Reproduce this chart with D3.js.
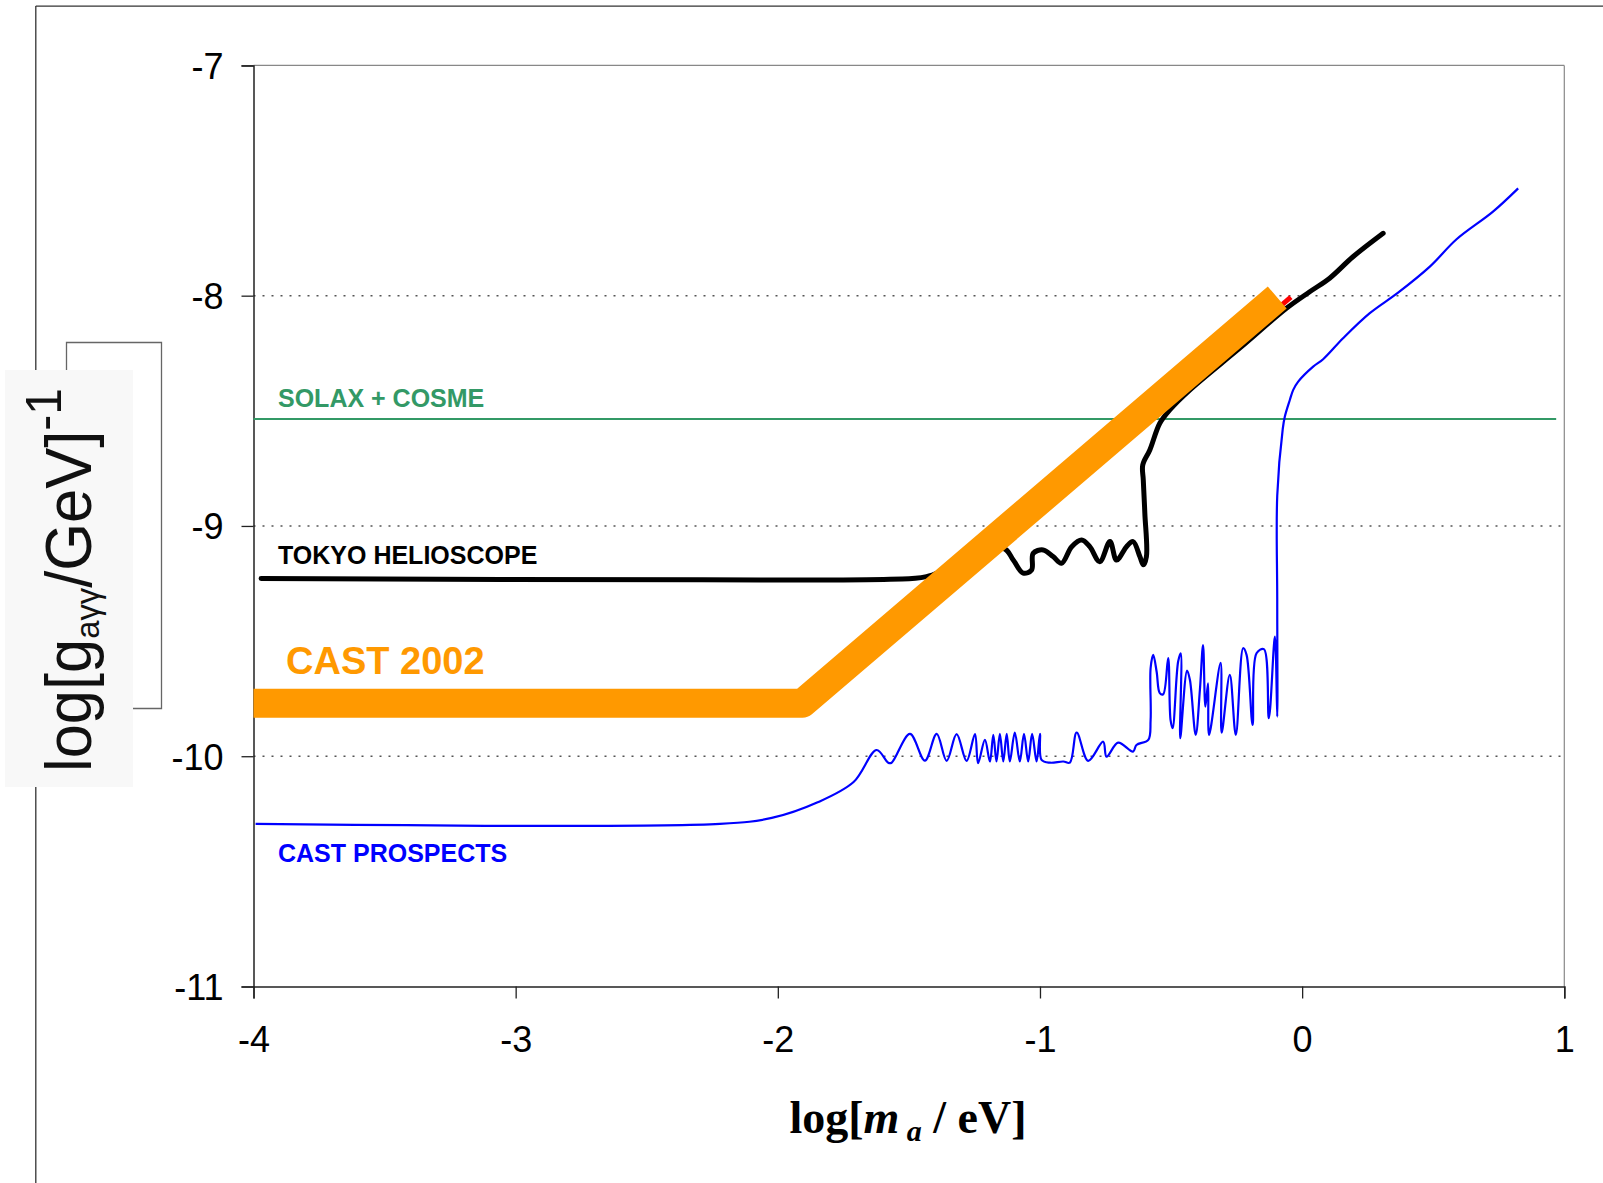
<!DOCTYPE html>
<html>
<head>
<meta charset="utf-8">
<script src="https://cdn.jsdelivr.net/npm/d3@7"></script>
<style>
  body { margin: 0; background: #fff; }
  svg { display: block; }
</style>
</head>
<body>
<div id="chart"></div>
<script>
// axis ticks
var xTicks = [-4, -3, -2, -1, 0, 1];
var yTicks = [-7, -8, -9, -10, -11];
var gridLevels = [-8, -9, -10];

// SOLAX + COSME limit (flat)
var solaxLevel = -8.536;
var solaxRange = [-4, 0.969];

// CAST 2002 exclusion (thick band) and the red line under it
var cast2002 = [[-4, -9.77], [-1.906, -9.77], [-0.095, -8.008]];
var castRed = [[-1.86, -9.79], [-0.043, -8.006]];

// Tokyo helioscope limit
var tokyo = [
  [-3.971, -9.228], [-2.297, -9.234], [-1.572, -9.231], [-1.433, -9.220],
  [-1.140, -9.097], [-1.102, -9.148], [-1.064, -9.205], [-1.032, -9.191],
  [-1.026, -9.119], [-0.988, -9.104], [-0.950, -9.133], [-0.918, -9.162],
  [-0.879, -9.090], [-0.841, -9.061], [-0.810, -9.090], [-0.772, -9.155],
  [-0.733, -9.068], [-0.708, -9.148], [-0.670, -9.090], [-0.645, -9.068],
  [-0.619, -9.133], [-0.606, -9.169], [-0.594, -9.133], [-0.600, -8.945],
  [-0.606, -8.800], [-0.608, -8.735], [-0.581, -8.670], [-0.543, -8.554],
  [-0.505, -8.496], [-0.428, -8.409], [-0.237, -8.227], [-0.060, -8.055],
  [0.029, -7.983], [0.105, -7.924], [0.194, -7.831], [0.309, -7.729]
];

// CAST prospects
var prospects = [
  [-3.992, -10.294], [-2.221, -10.294], [-2.023, -10.268], [-1.848, -10.200],
  [-1.711, -10.112], [-1.623, -9.973], [-1.579, -10.028], [-1.566, -10.028],
  [-1.496, -9.903], [-1.439, -10.019], [-1.394, -9.903], [-1.356, -10.020],
  [-1.318, -9.904], [-1.280, -10.020], [-1.248, -9.904], [-1.236, -10.030],
  [-1.210, -9.929], [-1.191, -10.023], [-1.178, -9.907], [-1.166, -10.023],
  [-1.153, -9.903], [-1.140, -10.023], [-1.127, -9.903], [-1.115, -10.023],
  [-1.096, -9.897], [-1.077, -10.023], [-1.061, -9.903], [-1.045, -10.023],
  [-1.030, -9.903], [-1.013, -10.023], [-1.000, -9.903], [-0.994, -10.016],
  [-0.962, -10.028], [-0.911, -10.023], [-0.886, -10.028], [-0.860, -9.897],
  [-0.816, -10.020], [-0.759, -9.937], [-0.746, -10.002], [-0.702, -9.941],
  [-0.645, -9.980], [-0.632, -9.951], [-0.587, -9.929], [-0.578, -9.842],
  [-0.578, -9.618], [-0.568, -9.560], [-0.555, -9.633], [-0.543, -9.726],
  [-0.530, -9.731], [-0.511, -9.574], [-0.502, -9.842], [-0.494, -9.878],
  [-0.473, -9.589], [-0.463, -9.553], [-0.465, -9.922], [-0.439, -9.628],
  [-0.428, -9.669], [-0.406, -9.907], [-0.390, -9.712], [-0.378, -9.517],
  [-0.369, -9.785], [-0.359, -9.683], [-0.355, -9.908], [-0.311, -9.594],
  [-0.307, -9.898], [-0.276, -9.647], [-0.253, -9.907], [-0.225, -9.531],
  [-0.212, -9.560], [-0.189, -9.864], [-0.174, -9.553], [-0.146, -9.535],
  [-0.127, -9.835], [-0.104, -9.481], [-0.095, -9.828], [-0.095, -9.321],
  [-0.095, -8.869], [-0.074, -8.579], [-0.066, -8.525], [-0.047, -8.453],
  [-0.034, -8.409], [-0.015, -8.373], [0.042, -8.308], [0.080, -8.276],
  [0.156, -8.185], [0.258, -8.076], [0.366, -7.987], [0.487, -7.874],
  [0.589, -7.755], [0.728, -7.635], [0.824, -7.534]
];

var width = 1603, height = 1183;
var plotLeft = 253.5, plotRight = 1564.3, plotTop = 65.4, plotBottom = 986.5;

var svg = d3.select("#chart").append("svg")
    .attr("width", width)
    .attr("height", height);

var x = d3.scaleLinear().domain([-4, 1]).range([plotLeft, plotRight]);
var y = d3.scaleLinear().domain([-11, -7]).range([plotBottom, plotTop]);

var line = d3.line()
    .x(function (d) { return x(d[0]); })
    .y(function (d) { return y(d[1]); });

// smoothed like the spreadsheet curves
var smoothLine = d3.line()
    .x(function (d) { return x(d[0]); })
    .y(function (d) { return y(d[1]); })
    .curve(d3.curveCatmullRom.alpha(0.5));

// outer frame (top and left)
svg.append("line").attr("x1", 35.8).attr("y1", 6.1).attr("x2", width).attr("y2", 6.1)
    .attr("stroke", "#333").attr("stroke-width", 1.3);
svg.append("line").attr("x1", 35.8).attr("y1", 6.1).attr("x2", 35.8).attr("y2", height)
    .attr("stroke", "#333").attr("stroke-width", 1.3);

// bracket next to the y title
svg.append("path")
    .attr("d", "M66.5,380 V342.5 H161.5 V708.5 H133")
    .attr("fill", "none").attr("stroke", "#666").attr("stroke-width", 1.3);

// y title box
svg.append("rect").attr("x", 5).attr("y", 370).attr("width", 128).attr("height", 417)
    .attr("fill", "#f8f8f8");

var yTitle = svg.append("text")
    .attr("transform", "translate(91,772) rotate(-90)")
    .attr("font-family", "Liberation Sans, Arial, sans-serif")
    .attr("font-size", 64)
    .attr("fill", "#111")
    .attr("textLength", 384)
    .attr("lengthAdjust", "spacingAndGlyphs");
yTitle.append("tspan").text("log[g");
yTitle.append("tspan").attr("font-size", 34).attr("dy", 8).text("aγγ");
yTitle.append("tspan").attr("dy", -8).text("/GeV]");
yTitle.append("tspan").attr("font-size", 50).attr("dy", -30).text("-1");

// plot frame: top and right in grey
svg.append("line").attr("x1", plotLeft).attr("y1", plotTop).attr("x2", plotRight).attr("y2", plotTop)
    .attr("stroke", "#888").attr("stroke-width", 1.2);
svg.append("line").attr("x1", plotRight).attr("y1", plotTop).attr("x2", plotRight).attr("y2", plotBottom)
    .attr("stroke", "#888").attr("stroke-width", 1.2);

// dotted grid
svg.selectAll(".grid")
    .data(gridLevels)
    .enter().append("line")
    .attr("class", "grid")
    .attr("x1", plotLeft).attr("x2", plotRight)
    .attr("y1", function (d) { return y(d); })
    .attr("y2", function (d) { return y(d); })
    .attr("stroke", "#555")
    .attr("stroke-width", 1.5)
    .attr("stroke-dasharray", "2,7");

// axes
var xAxis = d3.axisBottom(x).tickValues(xTicks).tickSize(12).tickPadding(28)
    .tickFormat(d3.format("d"));
var yAxis = d3.axisLeft(y).tickValues(yTicks).tickSize(12).tickPadding(18)
    .tickFormat(d3.format("d"));

var gx = svg.append("g").attr("transform", "translate(0," + plotBottom + ")").call(xAxis);
var gy = svg.append("g").attr("transform", "translate(" + plotLeft + ",0)").call(yAxis);

[gx, gy].forEach(function (g) {
    g.select(".domain").attr("stroke", "#222").attr("stroke-width", 1.5);
    g.selectAll(".tick line").attr("stroke", "#222").attr("stroke-width", 1.3);
    g.selectAll(".tick text")
        .attr("font-family", "Liberation Sans, Arial, sans-serif")
        .attr("font-size", 36)
        .attr("fill", "#000")
        .text(function (d) { return d < 0 ? "-" + Math.abs(d) : d; });
});
gy.selectAll(".tick text").attr("dy", "0.36em");

// x title
var xTitle = svg.append("text")
    .attr("x", 908).attr("y", 1133)
    .attr("text-anchor", "middle")
    .attr("font-family", "Liberation Serif, Times New Roman, serif")
    .attr("font-weight", "bold")
    .attr("font-size", 46)
    .attr("fill", "#000");
xTitle.append("tspan").text("log[");
xTitle.append("tspan").attr("font-style", "italic").text("m");
xTitle.append("tspan").attr("font-style", "italic").attr("font-size", 30).attr("dy", 8).text(" a");
xTitle.append("tspan").attr("dy", -8).text("  / eV]");

// SOLAX + COSME
svg.append("line")
    .attr("x1", x(solaxRange[0])).attr("x2", x(solaxRange[1]))
    .attr("y1", y(solaxLevel)).attr("y2", y(solaxLevel))
    .attr("stroke", "#339966").attr("stroke-width", 2);

// CAST prospects
svg.append("path").datum(prospects)
    .attr("d", smoothLine)
    .attr("fill", "none").attr("stroke", "#0000ff").attr("stroke-width", 2.2)
    .attr("stroke-linejoin", "round");

// Tokyo helioscope
svg.append("path").datum(tokyo)
    .attr("d", smoothLine)
    .attr("fill", "none").attr("stroke", "#000").attr("stroke-width", 5)
    .attr("stroke-linejoin", "round").attr("stroke-linecap", "round");

// CAST 2002 red line and orange band
svg.append("path").datum(castRed)
    .attr("d", line)
    .attr("fill", "none").attr("stroke", "#ff0000").attr("stroke-width", 5);

svg.append("path").datum(cast2002)
    .attr("d", line)
    .attr("fill", "none").attr("stroke", "#ff9900").attr("stroke-width", 29)
    .attr("stroke-linejoin", "round").attr("stroke-linecap", "butt");

// series labels
var labels = [
    { text: "SOLAX + COSME", x: 278, y: 407, size: 25, color: "#339966" },
    { text: "TOKYO HELIOSCOPE", x: 278, y: 564, size: 25, color: "#000" },
    { text: "CAST 2002", x: 286, y: 674, size: 38, color: "#ff9900" },
    { text: "CAST PROSPECTS", x: 278, y: 862, size: 25, color: "#0000ff" }
];
svg.selectAll(".lab")
    .data(labels)
    .enter().append("text")
    .attr("class", "lab")
    .attr("x", function (d) { return d.x; })
    .attr("y", function (d) { return d.y; })
    .attr("font-family", "Liberation Sans, Arial, sans-serif")
    .attr("font-weight", "bold")
    .attr("font-size", function (d) { return d.size; })
    .attr("fill", function (d) { return d.color; })
    .text(function (d) { return d.text; });
</script>
</body>
</html>
